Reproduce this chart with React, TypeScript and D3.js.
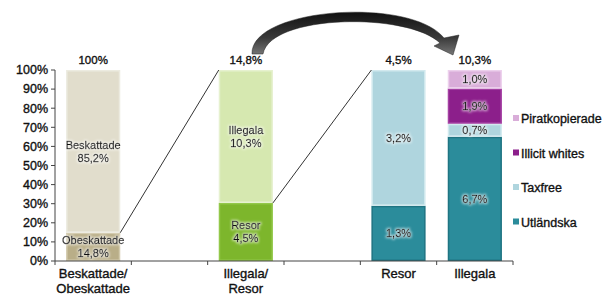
import * as d3 from 'd3';

// x-kategorier (två tomma luckor mellan staplarna)
const categories = ['bes', 'gap1', 'ill', 'gap2', 'resor', 'illegala'];
const categoryLabels = [['Beskattade/', 'Obeskattade'], [], ['Illegala/', 'Resor'], [], ['Resor'], ['Illegala']];

// staplarna, nerifrån och upp
const barKeys = ['bes', 'ill', 'resor', 'illegala'];
const barTotals = ['100%', '14,8%', '4,5%', '10,3%'];
const segNames = [
  ['Obeskattade', 'Beskattade'],
  ['Resor', 'Illegala'],
  ['Utländska', 'Taxfree'],
  ['Utländska', 'Taxfree', 'Illicit whites', 'Piratkopierade'],
];
const segValues = [
  [14.8, 85.2],
  [4.5, 10.3],
  [1.3, 3.2],
  [6.7, 0.7, 1.9, 1.0],
];
const segLabels = [
  [['Obeskattade', '14,8%'], ['Beskattade', '85,2%']],
  [['Resor', '4,5%'], ['Illegala', '10,3%']],
  [['1,3%'], ['3,2%']],
  [['6,7%'], ['0,7%'], ['1,9%'], ['1,0%']],
];

const legendItems = ['Piratkopierade', 'Illicit whites', 'Taxfree', 'Utländska'];
const yTicks = [0, 10, 20, 30, 40, 50, 60, 70, 80, 90, 100];

const colors: Record<string, string> = {
  Obeskattade: '#b9ae88',
  Beskattade: '#e1ddcc',
  Resor: '#7db62c',
  Illegala: '#d6e8b0',
  Utländska: '#2b8c9b',
  Taxfree: '#afd5de',
  'Illicit whites': '#8c1f8b',
  Piratkopierade: '#d9add9',
};
const borders: Record<string, string> = {
  Obeskattade: '#d3cbae',
  Beskattade: '#ecebe0',
  Resor: '#93c84a',
  Illegala: '#e6f1cf',
  Utländska: '#1f7482',
  Taxfree: '#d2e9ee',
  'Illicit whites': '#a441a3',
  Piratkopierade: '#ecd0ec',
};

const W = 603;
const H = 295;
const font = '"Liberation Sans", Arial, sans-serif';

export default function App() {
  const x = d3.scaleBand<string>().domain(categories).range([55, 513]).padding(0);
  const y = d3.scaleLinear().domain([0, 100]).range([261, 70]);
  const barW = x.bandwidth() * 0.71;
  const barX = (k: string) => (x(k) ?? 0) + (x.bandwidth() - barW) / 2;

  // andelar i procent av varje stapel
  const stacks = segValues.map(vals => {
    const total = d3.sum(vals);
    const cum = [0, ...d3.cumsum(vals.map(v => (v / total) * 100))];
    return vals.map((_, i) => ({ y0: cum[i], y1: cum[i + 1] }));
  });

  const bold = { stroke: '#111', strokeWidth: 0.35 } as const;

  // förbindelselinjer mellan staplarna
  const connectors = [
    { x1: barX('bes') + barW, y1: y(stacks[0][0].y1), x2: barX('ill'), y2: y(100) },
    { x1: barX('ill') + barW, y1: y(stacks[1][0].y1), x2: barX('resor'), y2: y(100) },
  ];

  return (
    <svg width={W} height={H} style={{ position: 'absolute', left: 0, top: 0, background: '#fff' }} fontFamily={font}>
      <defs>
        <linearGradient id="arrowGrad" x1="0" y1="0" x2="0" y2="1">
          <stop offset="0" stopColor="#111" />
          <stop offset="0.6" stopColor="#3a3a3a" />
          <stop offset="1" stopColor="#777" />
        </linearGradient>
        <filter id="glow" x="-20%" y="-40%" width="140%" height="180%">
          <feMorphology in="SourceAlpha" operator="dilate" radius="1" result="d" />
          <feGaussianBlur in="d" stdDeviation="0.8" result="b" />
          <feFlood floodColor="#fff" floodOpacity="0.6" />
          <feComposite in2="b" operator="in" result="g" />
          <feMerge>
            <feMergeNode in="g" />
            <feMergeNode in="SourceGraphic" />
          </feMerge>
        </filter>
      </defs>

      {/* staplar */}
      {barKeys.map((k, bi) => (
        <g key={k}>
          {stacks[bi].map((s, si) => {
            const name = segNames[bi][si];
            const top = y(s.y1);
            const h = y(s.y0) - y(s.y1);
            const lines = segLabels[bi][si];
            const mid = y((s.y0 + s.y1) / 2);
            return (
              <g key={si}>
                <rect x={barX(k) + 0.75} y={top + 0.75} width={barW - 1.5} height={h - 1.5}
                  fill={colors[name]} stroke={borders[name]} strokeWidth={1.5} />
                {lines.map((t, li) => (
                  <text key={li} x={barX(k) + barW / 2}
                    y={mid + (li - (lines.length - 1) / 2) * 13}
                    dy="0.35em" textAnchor="middle" fontSize={11} fill="#111" {...bold}
                    filter="url(#glow)">{t}</text>
                ))}
              </g>
            );
          })}
          <text x={barX(k) + barW / 2} y={y(100) - 6} textAnchor="middle" fontSize={11.5} fill="#111" {...bold}>
            {barTotals[bi]}
          </text>
        </g>
      ))}

      {connectors.map((c, i) => (
        <line key={i} x1={c.x1} y1={c.y1} x2={c.x2} y2={c.y2} stroke="#333" strokeWidth={1} />
      ))}

      {/* y-axel */}
      <line x1={55} x2={55} y1={y(100)} y2={y(0)} stroke="#444" />
      {yTicks.map(t => (
        <g key={t}>
          <line x1={51} x2={55} y1={y(t)} y2={y(t)} stroke="#444" />
          <text x={48} y={y(t)} dy="0.35em" textAnchor="end" fontSize={12.5} fill="#111" {...bold}>{t}%</text>
        </g>
      ))}

      {/* x-axel */}
      <line x1={55} x2={513} y1={y(0)} y2={y(0)} stroke="#444" />
      {[...categories.map(c => x(c) ?? 0), 513].map((tx, i) => (
        <line key={i} x1={tx} x2={tx} y1={y(0)} y2={y(0) + 4} stroke="#444" />
      ))}
      {categories.map((c, i) =>
        categoryLabels[i].map((t, li) => (
          <text key={c + li} x={(x(c) ?? 0) + x.bandwidth() / 2} y={278 + li * 15}
            textAnchor="middle" fontSize={13} fill="#111" {...bold}>{t}</text>
        ))
      )}

      {/* legend */}
      {legendItems.map((name, i) => (
        <g key={name} transform={`translate(513, ${119 + i * 34.5})`}>
          <rect x={0} y={-4} width={6} height={6} fill={colors[name]} />
          <text x={8} y={0} dy="0.35em" fontSize={12.5} fill="#111" {...bold}>{name}</text>
        </g>
      ))}

      {/* böjd pil */}
      <path
        d="M252,54 C250,8 410,-4 444,38 L459,35 L453,55 L434,46 L440,43 C408,12 270,14 263,54 Z"
        fill="url(#arrowGrad)" stroke="#222" strokeWidth={0.5}
      />
    </svg>
  );
}
